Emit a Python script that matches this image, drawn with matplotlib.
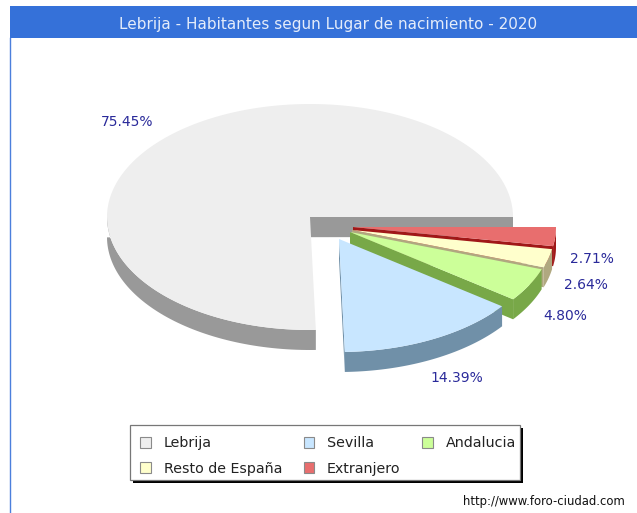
import numpy as np
import matplotlib
matplotlib.use('Agg')
import matplotlib.pyplot as plt
from matplotlib.patches import Patch, Rectangle

# data
title = 'Lebrija - Habitantes segun Lugar de nacimiento - 2020'
places = ['Lebrija', 'Sevilla', 'Andalucia', 'Resto de España', 'Extranjero']
shares = [75.45, 14.39, 4.80, 2.64, 2.71]

# style
top_colors = ['#EEEEEE', '#C8E6FF', '#CCFF99', '#FFFFCC', '#E86E6E']
wall_colors = ['#999999', '#7090A8', '#78A848', '#B0A880', '#A01818']
legend_edge = '#8A8A8A'
explode = [(0, 0), (29, 22), (40, 15), (42, 13), (43, 10)]
label_xy = [(127, 122), (457, 378), (565, 316), (586, 285), (592, 259)]
cx, cy, rx, ry, depth = 310, 217, 203, 113, 20


def point(a, ox, oy):
    return cx + ox + rx*np.cos(a), cy + oy - ry*np.sin(a)


def main():
    fig = plt.figure(figsize=(6.37, 5.13), dpi=100)
    ax = fig.add_axes([0, 0, 1, 1])
    ax.set_xlim(0, 637)
    ax.set_ylim(513, 0)
    ax.axis('off')

    # frame and title bar
    ax.add_patch(Rectangle((10, 6), 627, 32, color='#3571D9', lw=0))
    ax.plot([10, 10], [38, 513], color='#4B7FDC', lw=1)
    ax.text(328, 24, title, color='#E4ECFA', fontsize=10.95,
            ha='center', va='center')

    # slice angles, counter clockwise from 3 o'clock
    edges = np.cumsum([0] + shares)/np.sum(shares)*2*np.pi

    # far slices first so the nearer ones cover their cut faces
    for i in [0, 4, 3, 2, 1]:
        ox, oy = explode[i]
        a0, a1 = edges[i], edges[i+1]
        ang = np.linspace(a0, a1, 200)
        x, y = point(ang, ox, oy)

        # outer wall, only the front half of the rim is visible
        front = np.sin(ang) <= 0
        if front.any():
            ax.fill(np.r_[x[front], x[front][::-1]],
                    np.r_[y[front], y[front][::-1] + depth],
                    color=wall_colors[i], lw=0)

        # cut face on the starting edge
        sx, sy = point(a0, ox, oy)
        ax0, ay0 = cx + ox, cy + oy
        ax.fill([ax0, sx, sx, ax0], [ay0, sy, sy + depth, ay0 + depth],
                color=wall_colors[i], lw=0)

        # top face
        ax.fill(np.r_[ax0, x], np.r_[ay0, y], color=top_colors[i], lw=0)

    for v, (lx, ly) in zip(shares, label_xy):
        ax.text(lx, ly, '{:.2f}%'.format(v), color='#2A2A9A', fontsize=10,
                ha='center', va='center')

    # legend box drawn by hand, its rows sit low in the frame
    ax.add_patch(Rectangle((133, 428), 390, 55, color='black', lw=0, zorder=4))
    ax.add_patch(Rectangle((130, 425), 390, 55, facecolor='white',
                           edgecolor='#777777', lw=0.9, zorder=4))

    # legend entries, filled column by column
    order = [0, 3, 1, 4, 2]
    handles = [Patch(facecolor=top_colors[i], edgecolor=legend_edge, lw=0.8)
               for i in order]
    ax.legend(handles, [places[i] for i in order], ncol=3,
              loc='center', bbox_to_anchor=(328/637, 1 - 456/513),
              fontsize=10.3, frameon=False, labelcolor='#222222',
              handlelength=0.75, handleheight=0.75, handletextpad=0.9,
              columnspacing=1.5, labelspacing=0.8, borderpad=0.7)

    ax.text(543.5, 501, 'http://www.foro-ciudad.com', color='#111111',
            fontsize=8.4, ha='center', va='center')

    fig.savefig('out.png', dpi=100)


main()
